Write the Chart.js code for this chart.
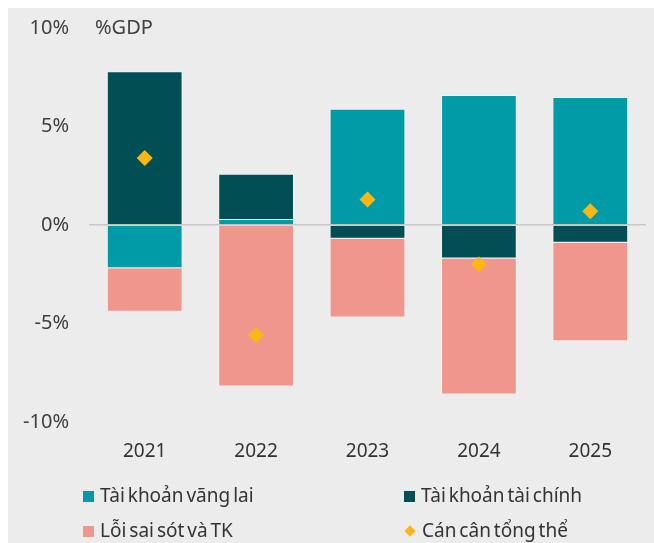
<!DOCTYPE html>
<html>
<head>
<meta charset="utf-8">
<script src="https://cdn.jsdelivr.net/npm/chart.js@4"></script>
<style>
  body { margin: 0; background: #fff; }
  #wrap { position: absolute; left: 8px; top: 8px; width: 646px; height: 535px; background: #ececec; }
  #myChart { position: absolute; left: 0; top: 0; }
  .leg { position: absolute; font-family: "Noto Sans", sans-serif; font-size: 19px; word-spacing: -2px; color: #333; white-space: nowrap; line-height: 22px; }
  .leg .box { display: inline-block; width: 11px; height: 11px; margin-right: 6px; vertical-align: 0px; }
  .leg .dia { display: inline-block; width: 8px; height: 8px; margin: 0 8px 0 2px; transform: rotate(45deg); vertical-align: 2px; }
</style>
</head>
<body>
<div id="wrap">
  <canvas id="myChart" width="646" height="535"></canvas>
</div>
<script>
const ctx = document.getElementById("myChart");

// % GDP
const years = ["2021", "2022", "2023", "2024", "2025"];
const currentAccount = [-2.2, 0.3, 5.9, 6.6, 6.5];
const financialAccount = [7.8, 2.3, -0.7, -1.7, -0.9];
const errorsOmissions = [-2.2, -8.2, -4.0, -6.9, -5.0];
const overallBalance = [3.4, -5.6, 1.3, -2.0, 0.7];
const yTicks = [-10, -5, 0, 5, 10];

const seriesNames = ["Tài khoản vãng lai", "Tài khoản tài chính", "Lỗi sai sót và TK", "Cán cân tổng thể"];
const colors = ["#009ba6", "#024e55", "#f0968c", "#fdb714"];

const font = "'Noto Sans', sans-serif";

const gdpLabel = {
  id: "gdpLabel",
  afterDraw(chart) {
    const c = chart.ctx;
    const y = chart.scales.y.getPixelForValue(10);
    c.save();
    c.font = "20px " + font;
    c.fillStyle = "#404040";
    c.textBaseline = "middle";
    c.fillText("%GDP", chart.chartArea.left + 6, y);
    c.restore();
  },
};

const chart = new Chart(ctx, {
  data: {
    labels: years,
    datasets: [
      {
        type: "line",
        label: seriesNames[3],
        data: overallBalance,
        showLine: false,
        pointStyle: "rectRot",
        pointRadius: 8,
        pointBackgroundColor: colors[3],
        pointBorderWidth: 0,
        borderColor: colors[3],
        stack: "overall",
        order: 0,
      },
      {
        type: "bar",
        label: seriesNames[0],
        data: currentAccount,
        backgroundColor: colors[0],
        borderColor: "rgba(255,255,255,0.35)",
        borderWidth: 1,
        stack: "bars",
        order: 1,
      },
      {
        type: "bar",
        label: seriesNames[1],
        data: financialAccount,
        backgroundColor: colors[1],
        borderColor: "rgba(255,255,255,0.35)",
        borderWidth: 1,
        stack: "bars",
        order: 1,
      },
      {
        type: "bar",
        label: seriesNames[2],
        data: errorsOmissions,
        backgroundColor: colors[2],
        borderColor: "rgba(255,255,255,0.35)",
        borderWidth: 1,
        stack: "bars",
        order: 1,
      },
    ],
  },
  options: {
    responsive: false,
    animation: false,
    categoryPercentage: 1,
    barPercentage: 0.68,
    layout: { padding: { top: 20, right: 6, left: 0, bottom: 0 } },
    plugins: {
      legend: { display: false },
      tooltip: { enabled: false },
    },
    scales: {
      x: {
        stacked: true,
        grid: { display: false, drawTicks: false },
        border: { display: false },
        ticks: { color: "#333", font: { family: font, size: 19 }, padding: 18 },
        afterFit(scale) {
          scale.height = 121;
          scale.paddingLeft = 0;
          scale.paddingRight = 0;
        },
      },
      y: {
        stacked: true,
        min: -10,
        max: 10,
        afterBuildTicks(scale) { scale.ticks = yTicks.map(v => ({ value: v })); },
        grid: {
          drawTicks: false,
          color: c => (c.tick && c.tick.value === 0 ? "#c8c8c8" : "rgba(0,0,0,0)"),
          lineWidth: 1.5,
        },
        border: { display: false },
        ticks: {
          color: "#404040",
          font: { family: font, size: 20 },
          padding: 20,
          callback: v => v + "%",
        },
        afterFit(scale) {
          scale.width = 81;
          scale.paddingTop = 0;
          scale.paddingBottom = 0;
        },
      },
    },
  },
  plugins: [gdpLabel],
});

// legend in two columns
const wrap = document.getElementById("wrap");
const legendPos = [[75, 476], [396, 476], [75, 511], [396, 511]];
const legendOrder = [0, 1, 2, 3];
legendOrder.forEach((i, k) => {
  const d = document.createElement("div");
  d.className = "leg";
  d.style.left = legendPos[k][0] + "px";
  d.style.top = legendPos[k][1] + "px";
  const mark = document.createElement("span");
  mark.className = i === 3 ? "dia" : "box";
  mark.style.background = colors[i];
  d.appendChild(mark);
  d.appendChild(document.createTextNode(seriesNames[i]));
  wrap.appendChild(d);
});
</script>
</body>
</html>
